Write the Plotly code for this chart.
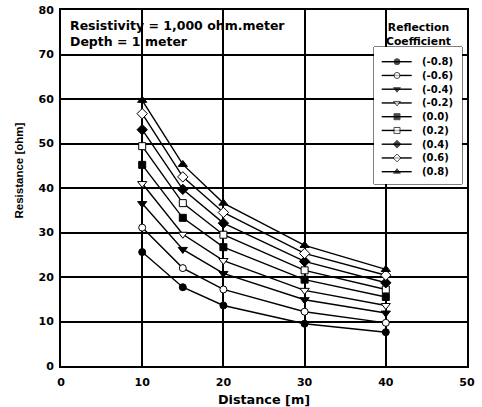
import plotly.graph_objects as go

# ---------------- data ----------------
distance = [10, 15, 20, 30, 40]
coefficients = ["(-0.8)", "(-0.6)", "(-0.4)", "(-0.2)", "(0.0)", "(0.2)", "(0.4)", "(0.6)", "(0.8)"]
r_m08 = [25.6, 17.7, 13.6, 9.5, 7.6]
r_m06 = [31.1, 22.0, 17.2, 12.2, 9.7]
r_m04 = [36.5, 26.2, 20.8, 14.9, 11.9]
r_m02 = [41.0, 29.6, 23.7, 17.0, 13.6]
r_00 = [45.2, 33.3, 26.7, 19.4, 15.5]
r_p02 = [49.4, 36.6, 29.5, 21.5, 17.2]
r_p04 = [53.1, 39.7, 32.1, 23.5, 18.7]
r_p06 = [56.7, 42.5, 34.5, 25.3, 20.4]
r_p08 = [59.7, 45.3, 36.6, 27.1, 21.7]
x_ticks = [0, 10, 20, 30, 40, 50]
y_ticks = [0, 10, 20, 30, 40, 50, 60, 70, 80]

series = [r_m08, r_m06, r_m04, r_m02, r_00, r_p02, r_p04, r_p06, r_p08]

# ---------------- styles ----------------
symbols = ["circle", "circle", "triangle-down", "triangle-down", "square", "square",
           "diamond", "diamond", "triangle-up"]
fills = ["black", "white", "black", "white", "black", "white", "black", "white", "black"]
sizes = [7, 7, 8, 8, 7, 7, 8, 8, 8]
WIDE = "DejaVu Sans, Verdana, sans-serif"
NARROW = "Liberation Sans, Arial, sans-serif"

W, H = 482, 407
# plot area in reference pixels: x 61..467, y 10..366
PL, PR, PT, PB = 61, 467, 10, 366
ML, MR, MT, MB = PL, W - PR, PT, H - PB
PW, PH = PR - PL, PB - PT


def px_x(p):
    return (p - PL) / PW


def px_y(p):
    return (PB - p) / PH


fig = go.Figure()

for vals, name, sym, fc, sz in zip(series, coefficients, symbols, fills, sizes):
    fig.add_trace(go.Scatter(
        x=distance, y=vals, mode="lines+markers", name=name, showlegend=False,
        line=dict(color="black", width=1.4),
        marker=dict(symbol=sym, size=sz, color=fc, line=dict(color="black", width=1)),
        xaxis="x", yaxis="y",
    ))

# ---------------- custom legend (own small axes) ----------------
LEG_L, LEG_R, LEG_T, LEG_B = 374, 462, 47, 184
item_step = 13.75
top_pad = 14.7
y_top = -top_pad / item_step
y_bot = y_top + (LEG_B - LEG_T) / item_step
lw = LEG_R - LEG_L
line_x0, line_xm, line_x1 = (381.7 - LEG_L) / lw, (397 - LEG_L) / lw, (411.7 - LEG_L) / lw
text_x = (420 - LEG_L) / lw

for i, (name, sym, fc) in enumerate(zip(coefficients, symbols, fills)):
    fig.add_trace(go.Scatter(
        x=[line_x0, line_xm, line_x1], y=[i, i, i], mode="lines+markers",
        showlegend=False, hoverinfo="skip",
        line=dict(color="black", width=1.4),
        marker=dict(symbol=sym, size=[0, 6, 0], color=fc, line=dict(color="black", width=1)),
        xaxis="x2", yaxis="y2",
    ))
    fig.add_annotation(x=text_x, y=i, xref="x2", yref="y2", text=name, showarrow=False,
                       xanchor="left", yanchor="middle",
                       font=dict(family=WIDE, size=10, color="black", weight="bold"))

fig.add_shape(type="rect", xref="x2 domain", yref="y2 domain", x0=0, x1=1, y0=0, y1=1,
              fillcolor="white", line=dict(color="black", width=1), layer="below")

fig.add_annotation(x=px_x(418), y=px_y(34), xref="paper", yref="paper",
                   text="Reflection<br>Coefficient", showarrow=False,
                   xanchor="center", yanchor="middle",
                   font=dict(family=WIDE, size=10.8, color="black", weight="bold"))

fig.add_annotation(x=px_x(68), y=px_y(16), xref="paper", yref="paper",
                   text="Resistivity = 1,000 ohm.meter<br>Depth = 1 meter", showarrow=False,
                   xanchor="left", yanchor="top", align="left",
                   font=dict(family=WIDE, size=12.5, color="black", weight="bold"))

# y-axis title (placed off-centre as in the original)
fig.add_annotation(x=px_x(18), y=px_y(170.5), xref="paper", yref="paper",
                   text="Resistance [ohm]", showarrow=False, textangle=-90,
                   xanchor="center", yanchor="middle",
                   font=dict(family=NARROW, size=11.5, color="black", weight="bold"))

axis_common = dict(showgrid=True, gridcolor="black", gridwidth=1.5, zeroline=False,
                   showline=True, linecolor="black", linewidth=2, mirror=True, ticks="",
                   automargin=False,
                   tickfont=dict(family=WIDE, size=11, color="black", weight="bold"))

fig.update_layout(
    width=W, height=H,
    margin=dict(l=ML, r=MR, t=MT, b=MB, autoexpand=False),
    paper_bgcolor="white", plot_bgcolor="white",
    showlegend=False,
    xaxis=dict(range=[0, 50], tickvals=x_ticks, domain=[0, 1], ticklabelstandoff=5,
               title=dict(text="Distance [m]", standoff=7,
                          font=dict(family=WIDE, size=12.8, color="black", weight="bold")),
               **axis_common),
    yaxis=dict(range=[0, 80], tickvals=y_ticks, domain=[0, 1], ticklabelstandoff=3,
               **axis_common),
    xaxis2=dict(domain=[px_x(LEG_L), px_x(LEG_R)], range=[0, 1], visible=False,
                anchor="y2", fixedrange=True),
    yaxis2=dict(domain=[px_y(LEG_B), px_y(LEG_T)], range=[y_bot, y_top], visible=False,
                anchor="x2", fixedrange=True),
)

fig.write_html("out.html", config={"displayModeBar": False},
               post_script="document.body.style.margin='0';document.body.style.overflow='hidden';")
